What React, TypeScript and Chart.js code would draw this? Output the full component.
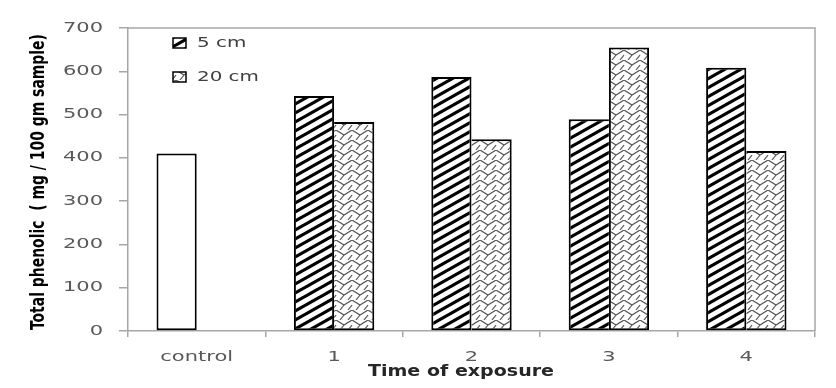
import React, { useEffect, useRef } from "react";
import { Chart, registerables } from "chart.js";

Chart.register(...registerables);

const categories = ["control", "1", "2", "3", "4"];
const series5cm = [410, 543, 587, 489, 608];
const series20cm = [null, 483, 443, 655, 416];
const seriesNames = ["5 cm", "20 cm"];
const yTitle = "Total phenolic  ( mg / 100 gm sample)";
const xTitle = "Time of exposure";

function makeStripePattern(): CanvasPattern | string {
  const c = document.createElement("canvas");
  const w = 16, h = 9;
  c.width = w; c.height = h;
  const g = c.getContext("2d");
  if (!g) return "#000";
  g.fillStyle = "#fff";
  g.fillRect(0, 0, w, h);
  g.strokeStyle = "#000";
  g.lineWidth = 3.2;
  for (let k = -1; k <= 1; k++) {
    g.beginPath();
    g.moveTo(-1, h * k + h + h / w);
    g.lineTo(w + 1, h * k - h / w);
    g.stroke();
  }
  return g.createPattern(c, "repeat") || "#000";
}

function makeWeavePattern(): CanvasPattern | string {
  const c = document.createElement("canvas");
  const w = 16, h = 10;
  c.width = w; c.height = h;
  const g = c.getContext("2d");
  if (!g) return "#888";
  g.fillStyle = "#fff";
  g.fillRect(0, 0, w, h);
  g.strokeStyle = "#555";
  g.lineWidth = 1.2;
  g.beginPath();
  g.moveTo(0, 0);
  g.lineTo(8, 5);
  g.lineTo(16, 0);
  g.moveTo(8, 5);
  g.lineTo(4, 10);
  g.moveTo(16, 5);
  g.lineTo(12, 10);
  g.moveTo(0, 5);
  g.lineTo(-4, 10);
  g.stroke();
  return g.createPattern(c, "repeat") || "#888";
}

function wideText(ctx: CanvasRenderingContext2D, text: string, x: number, y: number, sx: number, align: CanvasTextAlign) {
  ctx.save();
  ctx.translate(x, y);
  ctx.scale(sx, 1);
  ctx.textAlign = align;
  ctx.textBaseline = "middle";
  ctx.fillText(text, 0, 0);
  ctx.restore();
}

export default function App() {
  const ref = useRef<HTMLCanvasElement | null>(null);

  useEffect(() => {
    document.body.style.margin = "0";
    const canvas = ref.current;
    if (!canvas) return;
    const stripe = makeStripePattern();
    const weave = makeWeavePattern();
    const fills = [stripe, weave];

    const textPlugin = {
      id: "frameLegendText",
      afterDraw(chart: any) {
        const { ctx, chartArea } = chart;
        const xs = chart.scales.x;
        const ys = chart.scales.y;
        ctx.save();
        // top and right frame
        ctx.strokeStyle = "#a6a6a6";
        ctx.lineWidth = 1.5;
        ctx.beginPath();
        ctx.moveTo(chartArea.left, chartArea.top);
        ctx.lineTo(chartArea.right, chartArea.top);
        ctx.lineTo(chartArea.right, chartArea.bottom);
        ctx.stroke();

        // y tick labels
        ctx.fillStyle = "#595959";
        ctx.font = "14px 'DejaVu Sans'";
        ys.ticks.forEach((t: any) => {
          wideText(ctx, String(t.value), chartArea.left - 25, ys.getPixelForValue(t.value), 1.5, "right");
        });
        // x tick labels
        xs.ticks.forEach((t: any, i: number) => {
          wideText(ctx, xs.getLabelForValue(t.value), xs.getPixelForTick(i), 357, 1.5, "center");
        });

        // legend
        const lx = chartArea.left + 45;
        const rows = [43, 77];
        seriesNames.forEach((name, i) => {
          const y = rows[i];
          ctx.fillStyle = fills[i];
          ctx.fillRect(lx, y - 5, 13, 10);
          ctx.strokeStyle = "#000";
          ctx.lineWidth = 1.5;
          ctx.strokeRect(lx, y - 5, 13, 10);
          ctx.fillStyle = "#404040";
          ctx.font = "14px 'DejaVu Sans'";
          wideText(ctx, name, lx + 24, y, 1.42, "left");
        });

        // x title
        ctx.fillStyle = "#262626";
        ctx.font = "bold 15px 'DejaVu Sans'";
        wideText(ctx, xTitle, 461, 372, 1.27, "center");

        // y title
        ctx.save();
        ctx.translate(39, 182);
        ctx.scale(1.3, 1);
        ctx.rotate(-Math.PI / 2);
        ctx.fillStyle = "#000";
        ctx.font = "bold 15.5px 'Liberation Sans Narrow', 'DejaVu Sans Condensed', 'Liberation Sans'";
        ctx.textAlign = "center";
        ctx.textBaseline = "middle";
        ctx.fillText(yTitle, 0, 0);
        ctx.restore();
        ctx.restore();
      },
    };

    const border5 = (c: any) => {
      const i = c.dataIndex;
      const other = series20cm[i];
      const mine = series5cm[i];
      const right = other == null || mine >= other ? 2 : 0;
      return { top: 2, left: 2, bottom: 2, right };
    };
    const border20 = (c: any) => {
      const i = c.dataIndex;
      const other = series5cm[i];
      const mine = series20cm[i] ?? 0;
      const left = mine > other ? 2 : 0;
      return { top: 2, right: 2, bottom: 2, left };
    };

    const chart = new Chart(canvas, {
      type: "bar",
      data: {
        labels: categories,
        datasets: [
          {
            label: seriesNames[0],
            data: series5cm,
            backgroundColor: series5cm.map((_, i) => (i === 0 ? "#ffffff" : stripe)) as any,
            borderColor: "#000",
            borderWidth: border5 as any,
            borderSkipped: false,
            inflateAmount: 0,
            barPercentage: 1,
            categoryPercentage: 0.585,
          },
          {
            label: seriesNames[1],
            data: series20cm,
            backgroundColor: weave as any,
            borderColor: "#000",
            borderWidth: border20 as any,
            borderSkipped: false,
            inflateAmount: 0,
            barPercentage: 1,
            categoryPercentage: 0.585,
          },
        ],
      },
      options: {
        responsive: false,
        animation: false,
        layout: { padding: { top: 28, right: 21, left: 0, bottom: 0 } },
        plugins: {
          legend: { display: false },
          tooltip: { enabled: false },
        },
        scales: {
          x: {
            offset: true,
            grid: {
              display: true,
              drawOnChartArea: false,
              drawTicks: true,
              tickLength: 6,
              offset: true,
              color: "#a6a6a6",
              lineWidth: 1.5,
            },
            border: { color: "#a6a6a6", width: 1.5 },
            ticks: { display: false },
            title: { display: false },
            afterFit(scale: any) {
              scale.height = 57;
            },
          },
          y: {
            min: 0,
            max: 700,
            ticks: { stepSize: 100, display: false },
            grid: {
              display: true,
              drawOnChartArea: false,
              drawTicks: true,
              tickLength: 9,
              color: "#a6a6a6",
              lineWidth: 1.5,
            },
            border: { color: "#a6a6a6", width: 1.5 },
            title: { display: false },
            afterFit(scale: any) {
              scale.width = 128;
            },
          },
        },
      },
      plugins: [textPlugin],
    });
    return () => chart.destroy();
  }, []);

  return (
    <div style={{ position: "relative", width: 836, height: 388 }}>
      <canvas ref={ref} width={836} height={388} />
    </div>
  );
}
